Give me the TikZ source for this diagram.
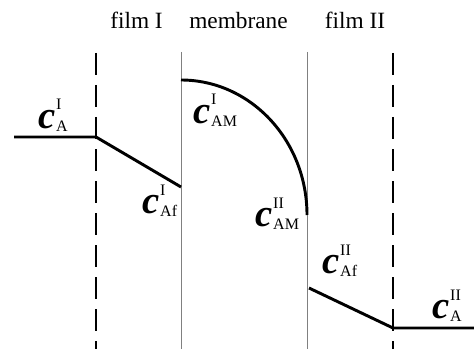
\documentclass[tikz,border=0pt]{standalone}
\usepackage{fontspec}
\setmainfont{Liberation Serif}
\usepackage{tikz}

\newcommand{\cbig}{\fontsize{29}{29}\selectfont\bfseries\itshape}
\newcommand{\csmall}{\fontsize{12}{12}\selectfont\upshape\mdseries}
\newcommand{\conc}[2]{{\cbig c}\kern0.6pt\rlap{\raisebox{13.5pt}{\csmall #1}}\raisebox{-2.3pt}{\csmall #2}}

\tikzset{
  profile/.style={line width=2.2pt, line join=miter},
  interface/.style={line width=1.4pt, dash pattern=on 16.5pt off 7.5pt},
  wall/.style={gray, line width=0.6pt},
  conclabel/.style={anchor=base west, inner sep=0pt},
  region/.style={font=\fontsize{17.5}{20}\selectfont, anchor=base, inner sep=0pt}
}

\begin{document}
\begin{tikzpicture}[x=0.75pt,y=-0.75pt]
  \useasboundingbox (0,0) rectangle (474,349);

  \node[region] (filmI) at (136.5,29) {film I};
  \node[region] (membrane) at (238.5,29) {membrane};
  \node[region] (filmII) at (355,29) {film II};

  \coordinate (dashItop) at (96,53);
  \coordinate (dashIbot) at (96,349);
  \coordinate (wallItop) at (181,52);
  \coordinate (wallIbot) at (181,349);
  \coordinate (wallIItop) at (307,52);
  \coordinate (wallIIbot) at (307,349);
  \coordinate (dashIItop) at (393,53);
  \coordinate (dashIIbot) at (393,349);

  \draw[interface] (dashItop) -- (dashIbot);
  \draw[interface] (dashIItop) -- (dashIIbot);
  \draw[wall] (wallItop) -- (wallIbot);
  \draw[wall] (wallIItop) -- (wallIIbot);

  \coordinate (bulkI) at (14,137);
  \coordinate (faceI) at (96,137);
  \coordinate (filmIend) at (181,187);
  \coordinate (memtop) at (181,80);
  \coordinate (membot) at (307,215);
  \coordinate (filmIIstart) at (309,288);
  \coordinate (faceII) at (393,328);
  \coordinate (bulkII) at (474,328);

  \draw[profile] (bulkI) -- (faceI) -- (filmIend);
  \draw[profile] (memtop) .. controls +(69.6,0) and +(0,-74.6) .. (membot);
  \draw[profile] (filmIIstart) -- (faceII) -- (bulkII);

  \node[conclabel] (cAI) at (38,128) {\conc{I}{A}};
  \node[conclabel] (cAfI) at (142,213) {\conc{I}{Af}};
  \node[conclabel] (cAMI) at (193,123) {\conc{I}{AM}};
  \node[conclabel] (cAMII) at (255,226) {\conc{II}{AM}};
  \node[conclabel] (cAfII) at (322,273) {\conc{II}{Af}};
  \node[conclabel] (cAII) at (432,318) {\conc{II}{A}};
\end{tikzpicture}
\end{document}
